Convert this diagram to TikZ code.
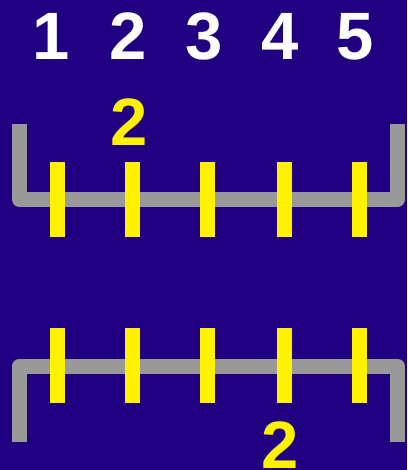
\documentclass[tikz,border=0pt]{standalone}
\usepackage{fontspec}
\setmainfont{Liberation Sans}
\usetikzlibrary{positioning}
\definecolor{bgblue}{RGB}{32,0,128}
\definecolor{trayg}{RGB}{153,153,153}

\begin{document}
\begin{tikzpicture}[x=1pt,y=-1pt,
  num/.style={font=\fontsize{67}{67}\selectfont\bfseries,anchor=base,inner sep=0pt},
  tray/.style={draw=trayg,line width=15pt,line join=round},
  pin/.style={draw=yellow,line width=15pt}]
\fill[bgblue] (0,0) rectangle (407,470);
\useasboundingbox (0,0) rectangle (407,470);
% column numbers
\foreach \i/\x in {1/51,2/128,3/204.5,4/280,5/355}
  \node[num,white] (n\i) at (\x,60) {\i};
% trays
\draw[tray] (19.5,124) -- (19.5,199.5) -- (397.5,199.5) -- (397.5,124);
\draw[tray] (19.5,441.5) -- (19.5,366) -- (397.5,366) -- (397.5,441.5);
% pins
\foreach \x in {57,132.5,207.5,284,359.5}{
  \draw[pin] (\x,162) -- (\x,237);
  \draw[pin] (\x,328) -- (\x,403);
}
\node[num,yellow] (cntA) at (129,146) {2};
\node[num,yellow] (cntB) at (280,468) {2};
\end{tikzpicture}
\end{document}
